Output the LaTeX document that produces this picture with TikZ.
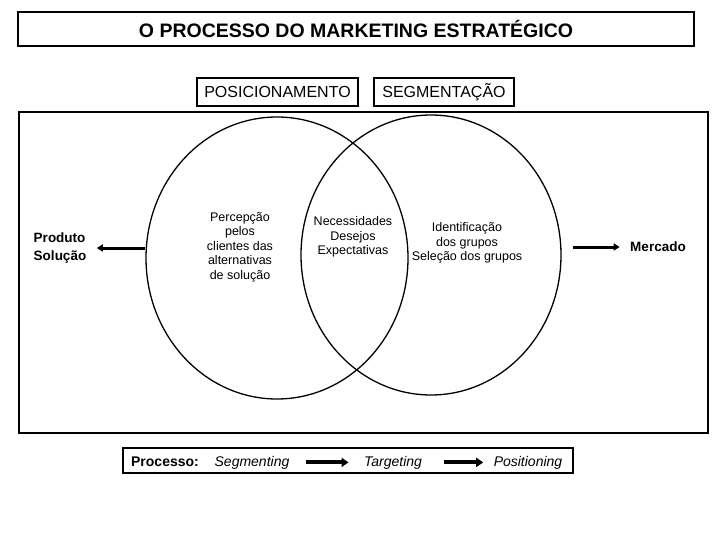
\documentclass[tikz,border=0pt]{standalone}
\usepackage{fontspec}
\setmainfont{Liberation Sans}
\usetikzlibrary{arrows.meta,positioning,shapes.geometric}

\begin{document}
\begin{tikzpicture}[x=1pt,y=-1pt,
  frm/.style={draw,line width=1.6pt,inner sep=0pt},
  tag/.style={draw,line width=1.1pt,minimum height=28pt,inner sep=0pt,font=\fontsize{16}{18}\selectfont},
  oval/.style={draw,ellipse,line width=1.3pt,inner sep=0pt},
  txt/.style={align=center,font=\fontsize{12.5}{14.5}\selectfont},
  side/.style={align=left,font=\fontsize{13.5}{18}\selectfont\bfseries},
  stage/.style={anchor=base,font=\fontsize{14}{16}\selectfont\itshape},
  arr/.style={-{Triangle[length=6pt,width=7pt]},line width=3pt},
  barr/.style={-{Triangle[length=7pt,width=9pt]},line width=4pt}]
\useasboundingbox (0,0) rectangle (720,540);
\node[frm,minimum width=676pt,minimum height=34pt,font=\fontsize{19.5}{22}\selectfont\bfseries] (title) at (356,29) {O PROCESSO DO MARKETING ESTRATÉGICO};
\node[tag,minimum width=161pt] (pos) at (277.5,92) {POSICIONAMENTO};
\node[tag,minimum width=140pt] (seg) at (444,92) {SEGMENTAÇÃO};
\node[frm,minimum width=689pt,minimum height=321pt] (frame) at (363.5,272.5) {};
\node[oval,minimum width=262pt,minimum height=282pt] (lell) at (277,258) {};
\node[oval,minimum width=260pt,minimum height=280pt] (rell) at (431,255) {};
\node[txt] (perc) at (240,247) {Percepção\\pelos\\clientes das\\alternativas\\de solução};
\node[txt] (nec) at (353,237) {Necessidades\\Desejos\\Expectativas};
\node[txt] (ident) at (467,243) {Identificação\\dos grupos\\Seleção dos grupos};
\node[side] (prod) at (60,248) {Produto\\Solução};
\node[side] (merc) at (658,247) {Mercado};
\draw[arr] (lell.west |- prod.east) -- ([xshift=7pt]prod.east);
\draw[arr] ([xshift=11pt]rell.east |- merc.west) -- ([xshift=-7pt]merc.west);
% processo
\node[frm,line width=1.1pt,minimum width=450pt,minimum height=25pt] (proc) at (348,460.5) {};
\node[anchor=base,font=\fontsize{14}{16}\selectfont\bfseries] (plab) at (165,466) {Processo:};
\node[stage] (segm) at (252,466) {Segmenting};
\node[stage] (targ) at (393,466) {Targeting};
\node[stage] (posi) at (528,466) {Positioning};
\draw[barr] ([xshift=13pt]segm.east) -- ([xshift=-12pt]targ.west);
\draw[barr] ([xshift=19pt]targ.east) -- ([xshift=-7pt]posi.west);
\end{tikzpicture}
\end{document}
